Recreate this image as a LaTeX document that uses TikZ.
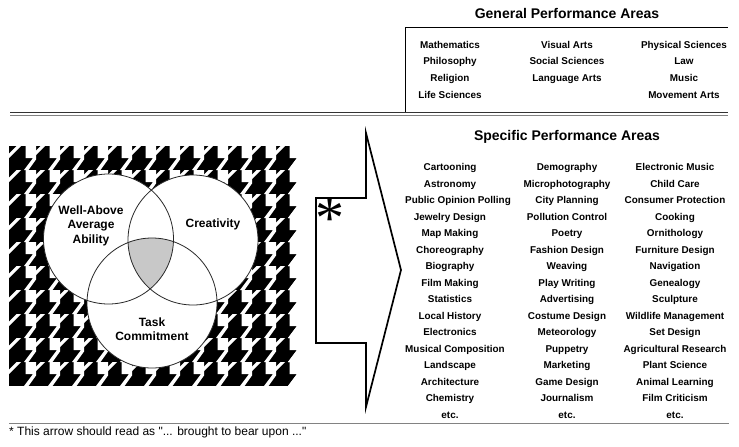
\documentclass[tikz,border=0pt]{standalone}
\usepackage{fontspec}
\setsansfont{Liberation Sans}
\newfontfamily\notefont{Liberation Sans}
\newfontfamily\starfont{Liberation Serif}
\renewcommand{\familydefault}{\sfdefault}
\definecolor{rulegray}{RGB}{130, 130, 130}
\definecolor{overlapgray}{RGB}{200, 200, 200}
\usetikzlibrary{positioning}
\tikzset{
  areatitle/.style={font=\fontsize{14}{14}\selectfont\bfseries, text height=14pt, text depth=3pt, inner sep=0pt},
  arealabel/.style={font=\fontsize{9.9}{10}\selectfont\bfseries, text height=10pt, text depth=2pt, inner sep=0pt},
  ringlabel/.style={font=\fontsize{12}{14.5}\selectfont\bfseries, align=center, inner sep=0pt},
  ring/.style={draw=black!85, line width=0.8pt}
}
\begin{document}
\begin{tikzpicture}[x=1pt, y=-1pt]
  \useasboundingbox (0,0) rectangle (739,447);

  % Houndstooth ground
  \begin{scope}
    \clip (9, 146) rectangle (298, 386);
    \fill[black] (9, 146) rectangle (298, 386);
    \foreach \i in {0,...,11} {
      \foreach \j in {0,...,9} {
        \begin{scope}[shift={(9+24*\i,386-24*\j)}, x=3pt, y=3pt]
          \fill[white] (5.5,4) -- (9,4) -- (9,8) -- (5.5,8) -- cycle
            (5,0) -- (6.5,0) -- (9,3.5) -- (9,4) -- (8,4) -- cycle
            (0,4) -- (0,5.5) -- (2.5,8) -- (4,8) -- cycle;
        \end{scope}
      }
    }
    \foreach \j in {0,...,9} {
      \begin{scope}[shift={(273,386-24*\j)}, x=3pt, y=3pt]
        \fill[white] (5,0) -- (9,0) -- (9,4) -- (8,4) -- cycle;
      \end{scope}
    }
  \end{scope}

  % Three rings
  \coordinate (ability) at (108.5, 239);
  \coordinate (creative) at (193, 240);
  \coordinate (task) at (152, 303);
  \fill[white] (ability) circle (65);
  \fill[white] (creative) circle (65);
  \fill[white] (task) circle (65);
  \begin{scope}
    \clip (ability) circle (65);
    \clip (creative) circle (65);
    \fill[overlapgray] (task) circle (65);
  \end{scope}
  \draw[ring] (ability) circle (65);
  \draw[ring] (creative) circle (65);
  \draw[ring] (task) circle (65);

  \node[ringlabel] (abilitylabel) at (91, 225.5) {Well-Above\\Average\\Ability};
  \node[ringlabel] (creativelabel) at (213, 224) {Creativity};
  \node[ringlabel] (tasklabel) at (152, 329) {Task\\Commitment};

  % Big arrow
  \draw[line width=1.7pt, miter limit=20] (316, 198) -- (366, 198) -- (366, 133) -- (401, 270)
    -- (366, 407) -- (366, 343) -- (316, 343) -- cycle;
  \node[font=\fontsize{58}{58}\selectfont\starfont, inner sep=0pt] (star) at (330, 219) {*};

  % Rules
  \draw[line width=1pt] (405, 112) -- (405, 27) -- (728, 27);
  \draw[line width=1pt, black!80] (10, 112) -- (728, 112);
  \draw[line width=1.2pt, rulegray] (10, 115.5) -- (728, 115.5);
  \draw[line width=1.4pt, rulegray] (9, 423.5) -- (729, 423.5);

  % General areas
  \node[areatitle] (gentitle) at (567, 13) {General Performance Areas};

  \node[arealabel] (gen11) at (450, 44) {Mathematics};
  \node[arealabel] (gen12) at (450, 60.5) {Philosophy};
  \node[arealabel] (gen13) at (450, 77) {Religion};
  \node[arealabel] (gen14) at (450, 94) {Life Sciences};

  \node[arealabel] (gen21) at (567, 44) {Visual Arts};
  \node[arealabel] (gen22) at (567, 60.5) {Social Sciences};
  \node[arealabel] (gen23) at (567, 77) {Language Arts};

  \node[arealabel] (gen31) at (684, 44) {Physical Sciences};
  \node[arealabel] (gen32) at (684, 60.5) {Law};
  \node[arealabel] (gen33) at (684, 77) {Music};
  \node[arealabel] (gen34) at (684, 94) {Movement Arts};

  % Specific areas
  \node[areatitle] (spectitle) at (567, 135) {Specific Performance Areas};

  \node[arealabel] (spec101) at (450, 166.5) {Cartooning};
  \node[arealabel] (spec102) at (450, 183) {Astronomy};
  \node[arealabel] (spec103) at (458, 199.5) {Public Opinion Polling};
  \node[arealabel] (spec104) at (450, 216) {Jewelry Design};
  \node[arealabel] (spec105) at (450, 232.5) {Map Making};
  \node[arealabel] (spec106) at (450, 249) {Choreography};
  \node[arealabel] (spec107) at (450, 265.5) {Biography};
  \node[arealabel] (spec108) at (450, 282) {Film Making};
  \node[arealabel] (spec109) at (450, 298.5) {Statistics};
  \node[arealabel] (spec110) at (450, 315) {Local History};
  \node[arealabel] (spec111) at (450, 331.5) {Electronics};
  \node[arealabel] (spec112) at (455, 348) {Musical Composition};
  \node[arealabel] (spec113) at (450, 364.5) {Landscape};
  \node[arealabel] (spec114) at (450, 381) {Architecture};
  \node[arealabel] (spec115) at (450, 397.5) {Chemistry};
  \node[arealabel] (spec116) at (450, 414) {etc.};

  \node[arealabel] (spec201) at (567, 166.5) {Demography};
  \node[arealabel] (spec202) at (567, 183) {Microphotography};
  \node[arealabel] (spec203) at (567, 199.5) {City Planning};
  \node[arealabel] (spec204) at (567, 216) {Pollution Control};
  \node[arealabel] (spec205) at (567, 232.5) {Poetry};
  \node[arealabel] (spec206) at (567, 249) {Fashion Design};
  \node[arealabel] (spec207) at (567, 265.5) {Weaving};
  \node[arealabel] (spec208) at (567, 282) {Play Writing};
  \node[arealabel] (spec209) at (567, 298.5) {Advertising};
  \node[arealabel] (spec210) at (567, 315) {Costume Design};
  \node[arealabel] (spec211) at (567, 331.5) {Meteorology};
  \node[arealabel] (spec212) at (567, 348) {Puppetry};
  \node[arealabel] (spec213) at (567, 364.5) {Marketing};
  \node[arealabel] (spec214) at (567, 381) {Game Design};
  \node[arealabel] (spec215) at (567, 397.5) {Journalism};
  \node[arealabel] (spec216) at (567, 414) {etc.};

  \node[arealabel] (spec301) at (675, 166.5) {Electronic Music};
  \node[arealabel] (spec302) at (675, 183) {Child Care};
  \node[arealabel] (spec303) at (675, 199.5) {Consumer Protection};
  \node[arealabel] (spec304) at (675, 216) {Cooking};
  \node[arealabel] (spec305) at (675, 232.5) {Ornithology};
  \node[arealabel] (spec306) at (675, 249) {Furniture Design};
  \node[arealabel] (spec307) at (675, 265.5) {Navigation};
  \node[arealabel] (spec308) at (675, 282) {Genealogy};
  \node[arealabel] (spec309) at (675, 298.5) {Sculpture};
  \node[arealabel] (spec310) at (675, 315) {Wildlife Management};
  \node[arealabel] (spec311) at (675, 331.5) {Set Design};
  \node[arealabel] (spec312) at (675, 348) {Agricultural Research};
  \node[arealabel] (spec313) at (675, 364.5) {Plant Science};
  \node[arealabel] (spec314) at (675, 381) {Animal Learning};
  \node[arealabel] (spec315) at (675, 397.5) {Film Criticism};
  \node[arealabel] (spec316) at (675, 414) {etc.};

  % Footnote
  \node[font=\fontsize{12}{12}\selectfont\notefont, anchor=west, inner sep=0pt] (footnote) at (9, 432.5) {* This arrow should read as "... brought to bear upon ..."};
\end{tikzpicture}
\end{document}
